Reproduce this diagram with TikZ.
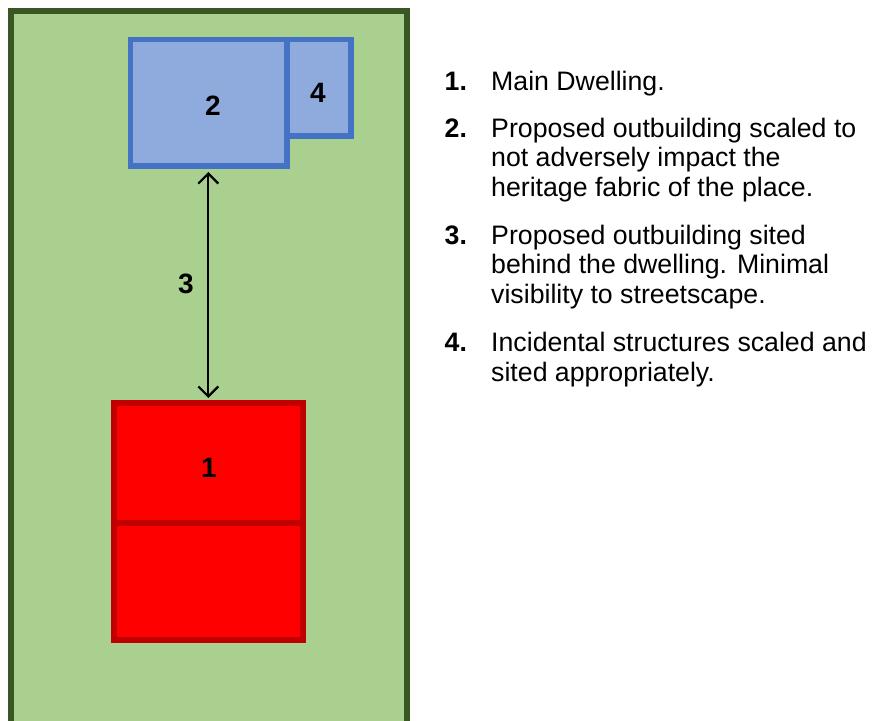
\documentclass[tikz,border=0pt]{standalone}
\usepackage{fontspec}
\setmainfont{Liberation Sans}
\usetikzlibrary{arrows.meta}
\definecolor{lawn}{HTML}{A9D08E}
\definecolor{lawnedge}{HTML}{385723}
\definecolor{bluefill}{HTML}{8FAADC}
\definecolor{blueedge}{HTML}{4472C4}
\definecolor{redfill}{HTML}{FF0000}
\definecolor{rededge}{HTML}{C00000}
\begin{document}
\begin{tikzpicture}[x=1pt,y=-1pt,
  blk/.style={line width=5.8pt},
  boxlabel/.style={font=\fontsize{28}{30}\selectfont\bfseries, inner sep=0pt},
  numlab/.style={font=\fontsize{26.7}{30}\selectfont\bfseries, anchor=base west, inner sep=0pt},
  itemtext/.style={font=\fontsize{26.7}{30}\selectfont, anchor=base west, inner sep=0pt}]
\useasboundingbox (0,0) rectangle (872,720);
\clip (0,0) rectangle (872,720);
\fill[white] (0,0) rectangle (872,720);
% lot
\draw[blk, line width=6pt, draw=lawnedge, fill=lawn] (10.5,11) rectangle (407,760);
% outbuilding 2 and structure 4
\draw[blk, draw=blueedge, fill=bluefill] (130.5,39.5) rectangle (287,166);
\draw[blk, draw=blueedge, fill=bluefill] (287,39.5) rectangle (351,136);
% main dwelling
\draw[blk, draw=rededge, fill=redfill] (113.7,403) rectangle (303,639.7);
\draw[blk, draw=rededge] (113.7,523) -- (303,523);
% labels
\node[boxlabel] (l2) at (213,106) {2};
\node[boxlabel] (l4) at (318,93) {4};
\node[boxlabel] (l1) at (209,468) {1};
\coordinate (atop) at (208.3,172);
\coordinate (abot) at (208.3,398);
\draw[line width=2.2pt, {Straight Barb[length=10pt,width=20pt]}-{Straight Barb[length=10pt,width=20pt]}] (atop) -- (abot);
\node[boxlabel] (l3) at (186,284) {3};
% legend
\node[numlab] (n1) at (444.5,90) {1.};
\node[itemtext] (t1a) at (491,90) {Main Dwelling.};
\node[numlab] (n2) at (444.5,137.3) {2.};
\node[itemtext] (t2a) at (491,137.3) {Proposed outbuilding scaled to};
\node[itemtext] (t2b) at (491,166.8) {not adversely impact the};
\node[itemtext] (t2c) at (491,196.3) {heritage fabric of the place.};
\node[numlab] (n3) at (444.5,244.3) {3.};
\node[itemtext] (t3a) at (491,244.3) {Proposed outbuilding sited};
\node[itemtext] (t3b) at (491,273.8) {behind the dwelling. Minimal};
\node[itemtext] (t3c) at (491,303.3) {visibility to streetscape.};
\node[numlab] (n4) at (444.5,351.7) {4.};
\node[itemtext] (t4a) at (491,351.7) {Incidental structures scaled and};
\node[itemtext] (t4b) at (491,381.2) {sited appropriately.};
\end{tikzpicture}
\end{document}
